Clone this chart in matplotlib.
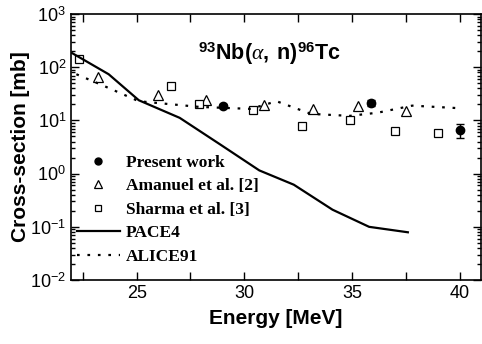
import matplotlib
matplotlib.use("Agg")
import matplotlib.pyplot as plt
from matplotlib.ticker import FixedLocator, FixedFormatter, LogLocator, NullFormatter
from matplotlib.lines import Line2D

plt.rcParams['font.family'] = ['Liberation Sans', 'DejaVu Sans']
plt.rcParams['mathtext.fontset'] = 'custom'
plt.rcParams['mathtext.rm'] = 'Liberation Sans'
plt.rcParams['mathtext.bf'] = 'Liberation Sans:bold'
plt.rcParams['mathtext.it'] = 'Liberation Serif:italic'

# Data
present_E = [29.0, 35.9, 40.0]
present_xs = [18.8, 21.5, 6.7]
present_err = [2.0, 2.5, 2.0]

amanuel_E = [23.2, 26.0, 28.2, 30.9, 33.2, 35.3, 37.5]
amanuel_xs = [66, 30, 24, 19.6, 16.5, 18.8, 15]

sharma_E = [22.3, 26.6, 27.9, 30.4, 32.7, 34.9, 37.0, 39.0]
sharma_xs = [142, 44.6, 20.4, 15.8, 7.9, 10.0, 6.4, 5.9]

pace_E = [22.0, 23.7, 25.1, 27.0, 28.9, 30.7, 32.3, 34.1, 35.8, 37.6]
pace_xs = [185, 74, 24, 11.2, 3.5, 1.15, 0.62, 0.21, 0.10, 0.079]

alice_E = [22.2, 23.3, 25.1, 27.9, 30.3, 31.5, 33.1, 34.9, 36.2, 37.8, 40.0]
alice_xs = [74, 48, 23, 18, 16.5, 23, 13.3, 12.2, 14, 19, 17]

xticks = [25, 30, 35, 40]
yticks = [1e-2, 1e-1, 1e0, 1e1, 1e2, 1e3]
ytick_labels = ['10$^{-2}$', '10$^{-1}$', '10$^{0}$', '10$^{1}$', '10$^{2}$', '10$^{3}$']
labels = ['Present work', 'Amanuel et al. [2]', 'Sharma et al. [3]', 'PACE4', 'ALICE91']

fig = plt.figure(figsize=(4.82, 3.44), dpi=100)
ax = fig.add_axes([0.1473, 0.186, 0.998 - 0.1473, 0.959 - 0.186])

ax.errorbar(present_E, present_xs, yerr=present_err, fmt='o', color='black',
            ms=6, capsize=3, elinewidth=1)
ax.plot(amanuel_E, amanuel_xs, '^', mfc='white', mec='black', ms=7, mew=0.9, ls='none')
ax.plot(sharma_E, sharma_xs, 's', mfc='white', mec='black', ms=6, mew=0.9, ls='none')
ax.plot(pace_E, pace_xs, '-', color='black', lw=1.6)
ax.plot(alice_E, alice_xs, ':', color='black', lw=1.6, dashes=(1.2, 3.5))

ax.set_yscale('log')
ax.set_xlim(21.95, 41.0)
ax.set_ylim(1e-2, 1e3)

ax.xaxis.set_major_locator(FixedLocator(xticks))
ax.xaxis.set_minor_locator(FixedLocator([22.5, 27.5, 32.5, 37.5]))
ax.yaxis.set_major_locator(FixedLocator(yticks))
ax.yaxis.set_major_formatter(FixedFormatter(ytick_labels))
ax.yaxis.set_minor_locator(LogLocator(base=10, subs=range(2, 10), numticks=20))
ax.yaxis.set_minor_formatter(NullFormatter())

ax.tick_params(which='both', direction='in', top=True, right=True, labelsize=13, width=1)
ax.tick_params(which='major', length=6)
ax.tick_params(which='minor', length=3)
ax.tick_params(axis='x', which='minor', length=6)
for s in ax.spines.values():
    s.set_linewidth(1.2)

ax.set_xlabel('Energy [MeV]', fontsize=15, fontweight='bold', labelpad=5)
ax.set_ylabel('Cross-section [mb]', fontsize=15, fontweight='bold', labelpad=0)

ax.text(0.485, 0.85, r'$^{\mathbf{93}}\mathbf{Nb(}\alpha\mathbf{,\ n)}^{\mathbf{96}}\mathbf{Tc}$',
        transform=ax.transAxes, ha='center', va='center', fontsize=15.5)

handles = [
    Line2D([], [], marker='o', color='black', ls='none', ms=5),
    Line2D([], [], marker='^', mfc='white', mec='black', ls='none', ms=6, mew=0.9),
    Line2D([], [], marker='s', mfc='white', mec='black', ls='none', ms=5, mew=0.9),
    Line2D([], [], color='black', lw=1.6),
    Line2D([], [], color='black', lw=1.6, ls=':', dashes=(1.2, 3.5)),
]
leg = ax.legend(handles, labels, loc='lower left', frameon=False, handlelength=2.5,
                handletextpad=0.35, labelspacing=0.42, borderaxespad=0.0,
                bbox_to_anchor=(0.005, 0.045),
                borderpad=0.2,
                prop={'family': 'Liberation Serif', 'weight': 'bold', 'size': 12.5})

fig.savefig('out.png', dpi=100)
